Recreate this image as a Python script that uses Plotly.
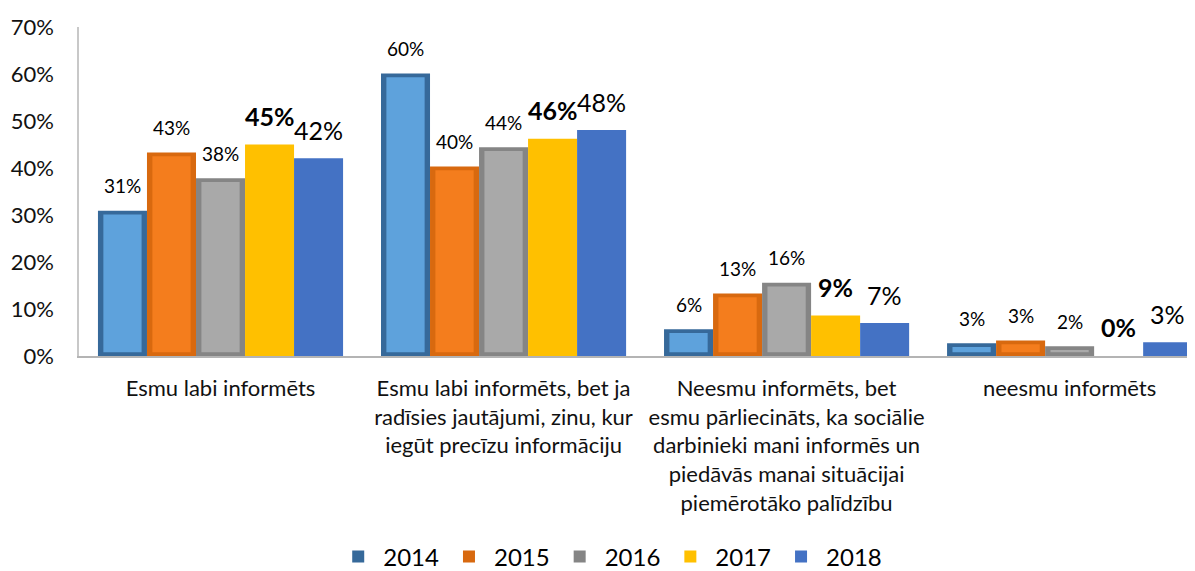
import plotly.graph_objects as go

categories = [
    "Esmu labi informēts",
    "Esmu labi informēts, bet ja<br>radīsies jautājumi, zinu, kur<br>iegūt precīzu informāciju",
    "Neesmu informēts, bet<br>esmu pārliecināts, ka sociālie<br>darbinieki mani informēs un<br>piedāvās manai situācijai<br>piemērotāko palīdzību",
    "neesmu informēts",
]
years = ["2014", "2015", "2016", "2017", "2018"]
v2014 = [30.9, 60.1, 5.7, 2.7]
v2015 = [43.3, 40.3, 13.3, 3.3]
v2016 = [37.8, 44.4, 15.6, 2.1]
v2017 = [45.0, 46.2, 8.6, 0.0]
v2018 = [42.1, 48.1, 7.0, 2.9]
series = [v2014, v2015, v2016, v2017, v2018]

# outer (edge) colour and inner (face) colour; bevelled series get an inner face
colors = ["#36699a", "#d8690f", "#858585", "#ffc000", "#4472c4"]
face_colors = ["#5ea2dc", "#f47d1d", "#a9a9a9", None, None]
label_fonts = [
    dict(size=19, color="#000000"),
    dict(size=19, color="#000000"),
    dict(size=19, color="#000000"),
    dict(size=25, color="#000000", weight="bold"),
    dict(size=25, color="#000000"),
]
label_shift = [25, 25, 25, 29, 28]

FONT = "Lato, 'Open Sans', sans-serif"
bargap = 0.134
bevel_w = 0.78      # inner face width fraction
bevel_h = 0.8       # inner face inset (percentage points)
xs = list(range(len(categories)))
n = len(years)
bw = (1 - bargap) / n

fig = go.Figure()
for j, (yr, vals) in enumerate(zip(years, series)):
    off = (j - n / 2) * bw
    fig.add_trace(go.Bar(
        x=xs, y=vals, name=yr, width=bw, offset=off,
        marker=dict(color=colors[j], line=dict(width=0)),
    ))
for j, vals in enumerate(series):
    if face_colors[j] is None:
        continue
    off = (j - n / 2) * bw + bw * (1 - bevel_w) / 2
    hs = [max(v - 2 * bevel_h, 0) for v in vals]
    fig.add_trace(go.Bar(
        x=xs, y=hs, base=[bevel_h] * len(vals), width=bw * bevel_w, offset=off,
        marker=dict(color=face_colors[j], line=dict(width=0)),
        showlegend=False, hoverinfo="skip",
    ))

for j, vals in enumerate(series):
    for i, v in enumerate(vals):
        fig.add_annotation(
            x=i + (j - (n - 1) / 2) * bw, y=v, xref="x", yref="y",
            text=f"{round(v)}%", showarrow=False, yanchor="middle",
            yshift=label_shift[j], font=dict(family=FONT, **label_fonts[j]),
        )

# the page body has an 8px default margin, so the figure is 8px smaller
fig.update_layout(
    width=1187, height=563,
    margin=dict(l=71, r=0, t=19, b=215, autoexpand=False),
    paper_bgcolor="white", plot_bgcolor="white",
    barmode="overlay",
    font=dict(family=FONT, color="#000000"),
    showlegend=True,
    legend=dict(orientation="h", x=0.476, xanchor="center", y=-0.611, yanchor="middle",
                font=dict(size=24, family=FONT), traceorder="normal",
                itemwidth=40),
)
fig.update_xaxes(
    range=[-0.5, 3.443], tickvals=xs, ticktext=categories, automargin=False,
    showline=True, linecolor="#b4b4b4", linewidth=1.5, showgrid=False, zeroline=False,
    ticks="", tickfont=dict(size=22, family=FONT, color="#111111"), ticklabelstandoff=12,
)
fig.update_yaxes(
    range=[0, 70], dtick=10, ticksuffix="%", automargin=False,
    showline=True, linecolor="#c8c8c8", linewidth=1.5, showgrid=False, zeroline=False,
    ticks="", tickfont=dict(size=22, family=FONT, color="#111111"), ticklabelstandoff=19,
)

fig.write_html("out.html")
